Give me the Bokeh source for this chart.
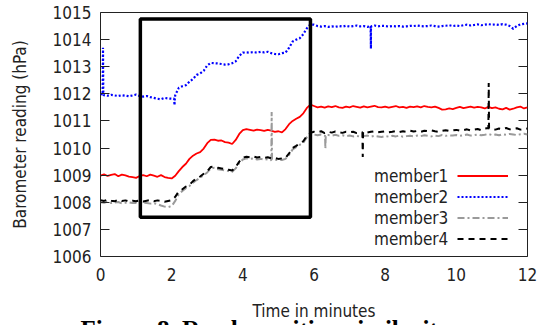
from bokeh.plotting import figure
from bokeh.models import (Range1d, FixedTicker, LinearAxis, Legend, LegendItem,
                          Title, BoxAnnotation)
from bokeh.embed import file_html
from bokeh.resources import INLINE

# ---------------- data ----------------
times = [round(i * 0.1, 1) for i in range(121)]

member1 = [
    1008.98, 1009.03, 1008.97, 1009.01, 1009.04, 1008.96, 1009.02, 1008.99, 1008.95, 1008.93,
    1008.90, 1008.97, 1009.00, 1008.96, 1009.02, 1008.98, 1008.94, 1009.00, 1008.93, 1008.90,
    1008.88, 1008.98, 1009.15, 1009.30, 1009.42, 1009.60, 1009.72, 1009.80, 1009.85, 1009.98,
    1010.18, 1010.30, 1010.31, 1010.27, 1010.28, 1010.22, 1010.20, 1010.15, 1010.30, 1010.52,
    1010.66, 1010.70, 1010.67, 1010.64, 1010.68, 1010.66, 1010.63, 1010.67, 1010.64, 1010.60,
    1010.62, 1010.58, 1010.70, 1010.88, 1011.00, 1011.08, 1011.15, 1011.28, 1011.48, 1011.60,
    1011.55, 1011.50, 1011.53, 1011.49, 1011.54, 1011.51, 1011.55, 1011.50, 1011.48, 1011.53,
    1011.50, 1011.55, 1011.52, 1011.49, 1011.54, 1011.50, 1011.53, 1011.56, 1011.51, 1011.50,
    1011.53, 1011.49, 1011.52, 1011.55, 1011.50, 1011.52, 1011.48, 1011.53, 1011.51, 1011.54,
    1011.50, 1011.55, 1011.52, 1011.50, 1011.53, 1011.48, 1011.42, 1011.43, 1011.46, 1011.44,
    1011.48, 1011.52, 1011.47, 1011.50, 1011.53, 1011.49, 1011.52, 1011.50, 1011.46, 1011.52,
    1011.47, 1011.50, 1011.45, 1011.43, 1011.48, 1011.42, 1011.45, 1011.50, 1011.53, 1011.46,
    1011.50,
]

member2 = [
    1012.00, 1011.95, 1011.93, 1011.96, 1011.94, 1011.92, 1011.95, 1011.93, 1011.91, 1011.94,
    1011.97, 1011.92, 1011.90, 1011.92, 1011.88, 1011.85, 1011.82, 1011.80, 1011.85, 1011.83,
    1011.82, 1011.95, 1012.22, 1012.28, 1012.32, 1012.45, 1012.55, 1012.70, 1012.75, 1012.85,
    1013.05, 1013.14, 1013.13, 1013.12, 1013.10, 1013.08, 1013.09, 1013.13, 1013.20, 1013.40,
    1013.52, 1013.53, 1013.52, 1013.54, 1013.52, 1013.55, 1013.53, 1013.55, 1013.50, 1013.47,
    1013.46, 1013.50, 1013.52, 1013.70, 1013.93, 1014.00, 1014.05, 1014.20, 1014.42, 1014.56,
    1014.55, 1014.50, 1014.48, 1014.50, 1014.47, 1014.49, 1014.47, 1014.50, 1014.48, 1014.51,
    1014.48, 1014.50, 1014.52, 1014.49, 1014.50, 1014.47, 1014.50, 1014.52, 1014.49, 1014.51,
    1014.50, 1014.48, 1014.50, 1014.49, 1014.50, 1014.48, 1014.49, 1014.51, 1014.50, 1014.52,
    1014.50, 1014.49, 1014.50, 1014.52, 1014.50, 1014.48, 1014.50, 1014.51, 1014.53, 1014.50,
    1014.52, 1014.50, 1014.53, 1014.55, 1014.52, 1014.54, 1014.56, 1014.53, 1014.55, 1014.57,
    1014.55, 1014.56, 1014.54, 1014.57, 1014.55, 1014.50, 1014.40, 1014.50, 1014.56, 1014.58,
    1014.60,
]

member3 = [
    1008.00, 1007.98, 1008.02, 1007.97, 1007.99, 1008.01, 1007.96, 1007.98, 1008.00, 1007.97,
    1007.98, 1007.96, 1007.99, 1007.97, 1007.95, 1007.97, 1007.93, 1007.88, 1007.84, 1007.82,
    1007.86, 1008.05, 1008.30, 1008.42, 1008.52, 1008.60, 1008.72, 1008.82, 1008.90, 1009.00,
    1009.10, 1009.25, 1009.27, 1009.22, 1009.20, 1009.17, 1009.15, 1009.12, 1009.25, 1009.45,
    1009.58, 1009.62, 1009.60, 1009.62, 1009.58, 1009.60, 1009.57, 1009.59, 1009.55, 1009.57,
    1009.55, 1009.56, 1009.60, 1009.75, 1009.95, 1010.03, 1010.12, 1010.20, 1010.40, 1010.50,
    1010.50, 1010.47, 1010.50, 1010.45, 1010.48, 1010.46, 1010.49, 1010.45, 1010.47, 1010.44,
    1010.46, 1010.43, 1010.45, 1010.42, 1010.44, 1010.46, 1010.42, 1010.45, 1010.43, 1010.41,
    1010.44, 1010.42, 1010.45, 1010.43, 1010.46, 1010.42, 1010.44, 1010.45, 1010.43, 1010.46,
    1010.44, 1010.47, 1010.45, 1010.43, 1010.46, 1010.44, 1010.48, 1010.45, 1010.47, 1010.46,
    1010.48, 1010.45, 1010.47, 1010.50, 1010.46, 1010.48, 1010.50, 1010.47, 1010.49, 1010.52,
    1010.48, 1010.50, 1010.47, 1010.51, 1010.49, 1010.52, 1010.50, 1010.48, 1010.51, 1010.53,
    1010.50,
]

member4 = [
    1008.08, 1008.05, 1008.10, 1008.06, 1008.04, 1008.09, 1008.05, 1008.07, 1008.03, 1008.06,
    1008.04, 1008.07, 1008.03, 1008.06, 1008.08, 1008.04, 1008.07, 1008.05, 1008.02, 1008.05,
    1008.08, 1008.20, 1008.40, 1008.48, 1008.58, 1008.64, 1008.78, 1008.88, 1008.95, 1009.05,
    1009.15, 1009.30, 1009.32, 1009.27, 1009.25, 1009.22, 1009.20, 1009.17, 1009.30, 1009.50,
    1009.65, 1009.68, 1009.66, 1009.69, 1009.65, 1009.67, 1009.64, 1009.66, 1009.62, 1009.63,
    1009.60, 1009.62, 1009.64, 1009.80, 1010.00, 1010.08, 1010.18, 1010.25, 1010.45, 1010.56,
    1010.60, 1010.58, 1010.62, 1010.55, 1010.60, 1010.57, 1010.61, 1010.58, 1010.56, 1010.60,
    1010.58, 1010.60, 1010.55, 1010.58, 1010.60, 1010.57, 1010.60, 1010.62, 1010.58, 1010.60,
    1010.62, 1010.58, 1010.60, 1010.63, 1010.59, 1010.62, 1010.60, 1010.64, 1010.61, 1010.63,
    1010.60, 1010.64, 1010.62, 1010.65, 1010.62, 1010.60, 1010.64, 1010.66, 1010.63, 1010.65,
    1010.67, 1010.64, 1010.66, 1010.69, 1010.65, 1010.68, 1010.70, 1010.66, 1010.72, 1010.74,
    1010.70, 1010.68, 1010.72, 1010.70, 1010.74, 1010.69, 1010.71, 1010.73, 1010.68, 1010.70,
    1010.72,
]

# single-sample spikes (time, value)
spike1_t, spike1_v = [], []
spike2_t = [0.06, 0.07, 0.08, 2.07, 2.08, 2.09, 7.59, 7.60, 7.61]
spike2_v = [1011.97, 1013.70, 1011.96, 1011.82, 1011.58, 1011.84, 1014.50, 1013.67, 1014.49]
spike3_t = [4.80, 4.81, 4.82, 6.31, 6.32, 6.33]
spike3_v = [1009.58, 1011.33, 1009.58, 1010.47, 1009.98, 1010.48]
spike4_t = [7.36, 7.37, 7.38, 10.90, 10.91, 10.92]
spike4_v = [1010.58, 1009.67, 1010.60, 1010.74, 1012.40, 1010.72]

series_names = ["member1", "member2", "member3", "member4"]
x_ticks = [0, 2, 4, 6, 8, 10, 12]
y_ticks = [1006, 1007, 1008, 1009, 1010, 1011, 1012, 1013, 1014, 1015]
x_title = "Time in minutes"
y_title = "Barometer reading (hPa)"
caption = "Figure 8. Ready position similarity"

# highlighted window (minutes, hPa)
box_t0, box_t1 = 1.12, 5.9
box_p0, box_p1 = 1007.45, 1014.76

# ---------------- figure ----------------
FONT = "DejaVu Sans Condensed"
TXT = "#222222"

p = figure(frame_width=427, frame_height=244,
           min_border_left=100, min_border_right=27, min_border_top=12, min_border_bottom=69,
           x_range=Range1d(0, 12), y_range=Range1d(1006, 1015),
           output_backend="svg", toolbar_location=None,
           background_fill_color="white", border_fill_color="white")
p.xgrid.visible = False
p.ygrid.visible = False
p.outline_line_color = "#222222"
p.outline_line_width = 1

xa = p.xaxis[0]
xa.ticker = FixedTicker(ticks=x_ticks)
xa.major_tick_in = 0
xa.major_tick_out = 0
xa.minor_tick_line_color = None
xa.axis_line_color = None
xa.major_label_text_font = FONT
xa.major_label_text_font_size = "17px"
xa.major_label_text_color = TXT
xa.major_label_standoff = 11
xa.axis_label = x_title
xa.axis_label_text_font = FONT
xa.axis_label_text_font_size = "17px"
xa.axis_label_text_font_style = "normal"
xa.axis_label_text_color = TXT
xa.axis_label_standoff = 17

ya = p.yaxis[0]
ya.ticker = FixedTicker(ticks=y_ticks)
ya.major_tick_in = 9
ya.major_tick_out = 0
ya.major_tick_line_color = "#222222"
ya.minor_tick_line_color = None
ya.axis_line_color = None
ya.major_label_text_font = FONT
ya.major_label_text_font_size = "17px"
ya.major_label_text_color = TXT
ya.major_label_standoff = 9
ya.axis_label = y_title
ya.axis_label_text_font = FONT
ya.axis_label_text_font_size = "17px"
ya.axis_label_text_font_style = "normal"
ya.axis_label_text_color = TXT
ya.axis_label_standoff = 20

ra = LinearAxis(ticker=FixedTicker(ticks=y_ticks), major_tick_in=9, major_tick_out=0,
                major_tick_line_color="#222222", minor_tick_line_color=None,
                axis_line_color=None, major_label_standoff=0,
                major_label_overrides={t: "" for t in y_ticks})
p.add_layout(ra, "right")


def merged(base_v, st, sv):
    pts = sorted(list(zip(times, base_v)) + list(zip(st, sv)))
    return [a for a, _ in pts], [b for _, b in pts]


styles = [
    dict(line_color="#ff0000", line_width=1.8),
    dict(line_color="#0000ff", line_width=2.2, line_dash="2 2"),
    dict(line_color="#9a9a9a", line_width=2, line_dash="7 3 2 3"),
    dict(line_color="#000000", line_width=2, line_dash="6 5"),
]
data = [(member1, spike1_t, spike1_v), (member2, spike2_t, spike2_v),
        (member3, spike3_t, spike3_v), (member4, spike4_t, spike4_v)]

renderers = []
for (vals, st, sv), st_ in zip(data, styles):
    xs, ys = merged(vals, st, sv)
    renderers.append(p.line(xs, ys, **st_))

box = BoxAnnotation(left=box_t0, right=box_t1, bottom=box_p0, top=box_p1,
                    fill_alpha=0, line_color="black", line_alpha=1, line_width=3.5)
p.add_layout(box)

# gnuplot-style key: names on the left, samples on the right
key_names = Legend(items=[LegendItem(label=n, renderers=[]) for n in series_names],
                   location=(274, 7), orientation="vertical",
                   glyph_width=0, glyph_height=21, label_height=21, label_width=74,
                   label_standoff=0, spacing=0, padding=0, margin=0,
                   label_text_font=FONT, label_text_font_size="17px", label_text_color=TXT,
                   border_line_color=None, background_fill_alpha=0)
key_lines = Legend(items=[LegendItem(label="", renderers=[r]) for r in renderers],
                   location=(357, 7), orientation="vertical",
                   glyph_width=51, glyph_height=21, label_height=21, label_width=0,
                   label_standoff=0, spacing=0, padding=0, margin=0,
                   label_text_font_size="17px",
                   border_line_color=None, background_fill_alpha=0)
p.add_layout(key_names, "center")
p.add_layout(key_lines, "center")

cap = Title(text=caption, align="left", offset=-20, standoff=-19,
            text_font="Liberation Serif", text_font_style="bold", text_font_size="25px",
            text_color="#000000")
p.add_layout(cap, "below")

open("out.html", "w").write(file_html(p, INLINE))
